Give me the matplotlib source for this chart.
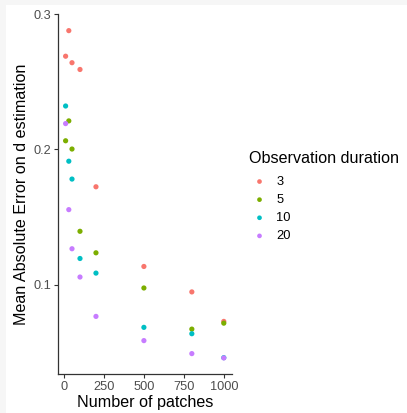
import matplotlib
matplotlib.use("Agg")
import matplotlib.pyplot as plt
from matplotlib.patches import Rectangle

plt.rcParams['font.family'] = ['Liberation Sans', 'DejaVu Sans']

patches = [10, 30, 50, 100, 200, 500, 800, 1000]
durations = ["3", "5", "10", "20"]
mae_3 = [0.2688, 0.2877, 0.2640, 0.2590, 0.1723, 0.1134, 0.0946, 0.0728]
mae_5 = [0.2063, 0.2210, 0.2002, 0.1394, 0.1235, 0.0975, 0.0671, 0.0715]
mae_10 = [0.2320, 0.1912, 0.1780, 0.1193, 0.1085, 0.0684, 0.0637, 0.0460]
mae_20 = [0.2190, 0.1554, 0.1265, 0.1056, 0.0765, 0.0586, 0.0490, 0.0458]
series = [mae_3, mae_5, mae_10, mae_20]
colors = ["#F8766D", "#7CAE00", "#00BFC4", "#C77CFF"]

W, H = 407, 413
fig = plt.figure(figsize=(W / 100, H / 100), dpi=100)
fig.patch.set_facecolor("#f6f6f6")
fig.patches.append(Rectangle((6 / W, 0), 1, 1 - 5 / H, transform=fig.transFigure,
                             facecolor="white", edgecolor="none", zorder=-10))

ax = fig.add_axes([57.7 / W, 1 - 374.3 / H, (231.7 - 57.7) / W, (374.3 - 14) / H])
ax.set_facecolor("white")
for vals, c, lab in zip(series, colors, durations):
    ax.scatter(patches, vals, s=14, color=c, edgecolors="none", label=lab, zorder=3)

allv = [v for s in series for v in s]
ymin, ymax = min(allv), max(allv)
yr = ymax - ymin
ax.set_ylim(ymin - 0.05 * yr, ymax + 0.05 * yr)
xr = max(patches) - min(patches)
ax.set_xlim(min(patches) - 0.05 * xr, max(patches) + 0.05 * xr)

ax.set_xticks([0, 250, 500, 750, 1000])
ax.set_yticks([0.1, 0.2, 0.3])
ax.set_yticklabels(["0.1", "0.2", "0.3"])
ax.tick_params(axis="both", length=3, width=0.8, color="#333333",
               labelcolor="#4d4d4d", labelsize=9.2, pad=2)
for s in ["top", "right"]:
    ax.spines[s].set_visible(False)
for s in ["left", "bottom"]:
    ax.spines[s].set_color("#333333")
    ax.spines[s].set_linewidth(0.9)

ax.set_xlabel("Number of patches", fontsize=11.6, color="black", labelpad=1)
ax.set_ylabel("Mean Absolute Error on d estimation", fontsize=11.6, color="black", labelpad=3)

leg = ax.legend(title="Observation duration", loc="upper left",
                bbox_to_anchor=(244 / W, 1 - 146 / H), bbox_transform=fig.transFigure,
                frameon=False, fontsize=9.3, title_fontsize=11.6, handletextpad=0.5,
                handlelength=1.6, labelspacing=0.47, markerscale=0.9, borderaxespad=0)
leg._legend_box.align = "left"
leg._legend_box.sep = 7

fig.savefig("out.png", dpi=100)
